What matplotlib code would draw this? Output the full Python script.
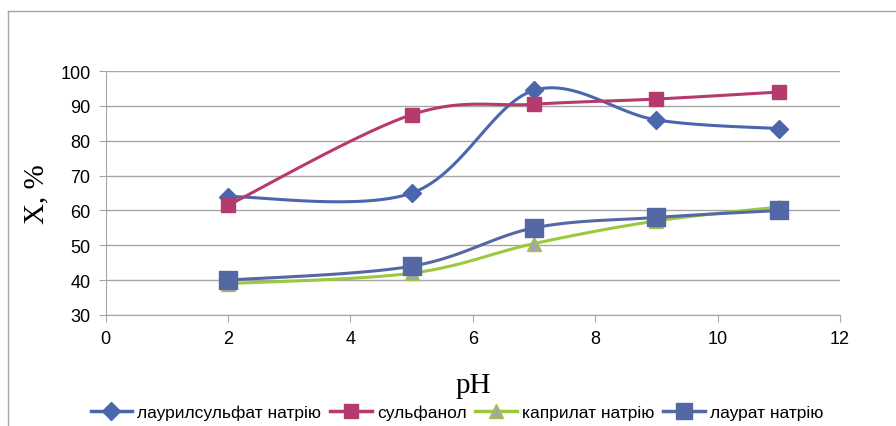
import numpy as np
import matplotlib
matplotlib.use("Agg")
import matplotlib.pyplot as plt
from matplotlib.lines import Line2D

# data
ph = [2, 5, 7, 9, 11]
lauryl_sulfate = [64, 65, 94.5, 86, 83.5]
sulfanol = [61.5, 87.5, 90.5, 92, 94]
caprylate = [39, 42, 50.5, 57, 61]
laurate = [40, 44, 55, 58, 60]
labels = ["лаурилсульфат натрію", "сульфанол", "каприлат натрію", "лаурат натрію"]


def smooth(x, y, n=30):
    """Excel-like smoothed line (Catmull-Rom through the points)."""
    x = np.asarray(x, float)
    y = np.asarray(y, float)
    p = np.column_stack([x, y])
    p = np.vstack([p[0], p, p[-1]])
    out = []
    t = np.linspace(0, 1, n)
    for i in range(1, len(p) - 2):
        p0, p1, p2, p3 = p[i - 1], p[i], p[i + 1], p[i + 2]
        c1 = p1 + (p2 - p0) / 6
        c2 = p2 - (p3 - p1) / 6
        seg = ((1 - t) ** 3)[:, None] * p1 + (3 * (1 - t) ** 2 * t)[:, None] * c1 \
            + (3 * (1 - t) * t ** 2)[:, None] * c2 + (t ** 3)[:, None] * p2
        out.append(seg if i == 1 else seg[1:])
    out = np.vstack(out)
    return out[:, 0], out[:, 1]


plt.rcParams['font.family'] = ['Liberation Sans', 'DejaVu Sans']

fig = plt.figure(figsize=(8.96, 4.27), dpi=100)
ax = fig.add_axes([0.118, 0.26, 0.8195, 0.571])

series = [
    (lauryl_sulfate, dict(color="#4A66AC", marker="D", ms=9, mfc="#4A66AC", mec="#4A66AC")),
    (sulfanol, dict(color="#B53B6F", marker="s", ms=9.5, mfc="#B53B6F", mec="#B53B6F")),
    (caprylate, dict(color="#9BC83C", marker="^", ms=10, mfc="#A5A5A5", mec="#9BC83C")),
    (laurate, dict(color="#5568A6", marker="s", ms=13.5, mfc="#5568A6", mec="#5568A6")),
]

handles = []
for (vals, st), lab in zip(series, labels):
    sx, sy = smooth(ph, vals)
    ax.plot(sx, sy, color=st["color"], lw=2.2, zorder=3)
    ax.plot(ph, vals, ls="none", marker=st["marker"], ms=st["ms"],
            mfc=st["mfc"], mec=st["mec"], zorder=4)
    handles.append(Line2D([], [], color=st["color"], lw=2.5, marker=st["marker"],
                          ms=min(st["ms"], 11), mfc=st["mfc"], mec=st["mec"], label=lab))

ax.set_xlim(0, 12)
ax.set_ylim(30, 100)
ax.set_xticks(range(0, 13, 2))
ax.set_yticks(range(30, 101, 10))
ax.grid(axis="y", color="#A6A6A6", lw=1)
ax.set_axisbelow(True)
for s in ["top", "right"]:
    ax.spines[s].set_visible(False)
for s in ["left", "bottom"]:
    ax.spines[s].set_color("#A6A6A6")
ax.tick_params(length=5, color="#A6A6A6", labelsize=13, pad=6)

ax.set_xlabel("pH", family="Liberation Serif", fontsize=21, labelpad=18)
ax.set_ylabel("X, %", family="Liberation Serif", fontsize=21, labelpad=8)

fig.legend(handles=handles, loc="center", bbox_to_anchor=(0.51, 0.032), ncol=4,
           frameon=False, fontsize=12.5, handlelength=2.4, columnspacing=0.5,
           handletextpad=0.3)

# outer chart frame
fig.add_artist(Line2D([8 / 896, 8 / 896], [0, 1 - 12 / 427], color="#A6A6A6", lw=1))
fig.add_artist(Line2D([8 / 896, 1], [1 - 12 / 427, 1 - 12 / 427], color="#A6A6A6", lw=1))

fig.savefig("out.png", dpi=100)
